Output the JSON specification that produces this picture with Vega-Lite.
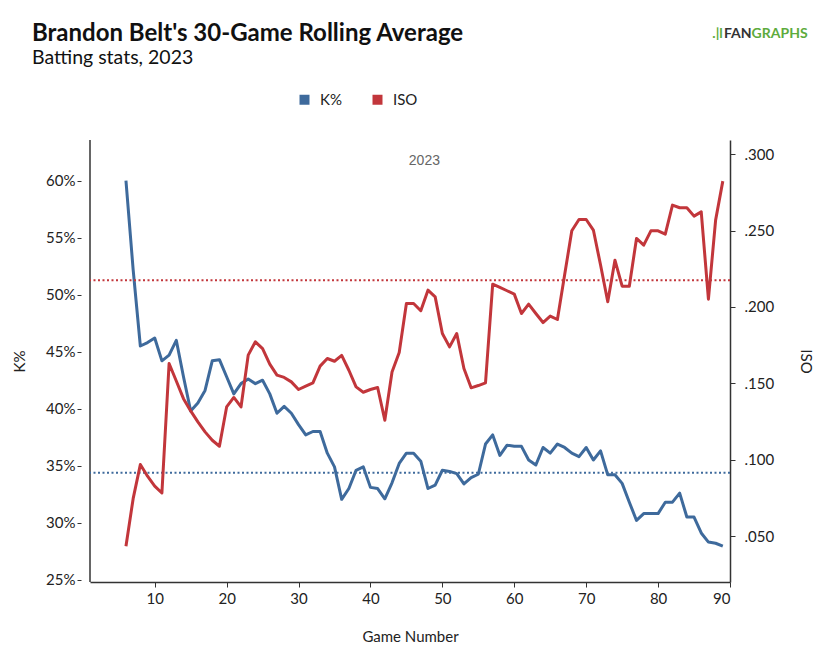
{
  "$schema": "https://vega.github.io/schema/vega-lite/v6.json",
  "width": 640,
  "height": 442,
  "autosize": {"type": "none"},
  "padding": {"left": 90, "top": 140, "right": 101, "bottom": 84},
  "background": "white",
  "config": {
    "view": {"stroke": null},
    "font": "Lato",
    "axis": {
      "labelFont": "Lato", "labelFontSize": 15, "labelColor": "#222",
      "titleFont": "Lato", "titleFontSize": 15, "titleFontWeight": "normal", "titleColor": "#222",
      "domainColor": "#333", "domainWidth": 1.5, "tickColor": "#333", "tickSize": 5, "grid": false
    },
    "legend": {"labelFont": "Lato", "labelFontSize": 15, "labelColor": "#222"}
  },
  "title": {
    "text": "Brandon Belt's 30-Game Rolling Average",
    "subtitle": "Batting stats, 2023",
    "anchor": "start",
    "frame": "group",
    "dx": -58,
    "dy": 50,
    "offset": 10,
    "font": "Lato", "fontSize": 24, "fontWeight": "bold", "color": "#111",
    "subtitleFont": "Lato", "subtitleFontSize": 19.5, "subtitleColor": "#111", "subtitlePadding": 3
  },
  "data": {
    "values": [
      {"game": 6, "K": 0.600, "ISO": 0.0435},
      {"game": 7, "K": 0.522, "ISO": 0.0746},
      {"game": 8, "K": 0.455, "ISO": 0.0969},
      {"game": 9, "K": 0.458, "ISO": 0.0893},
      {"game": 10, "K": 0.462, "ISO": 0.0828},
      {"game": 11, "K": 0.442, "ISO": 0.0783},
      {"game": 12, "K": 0.447, "ISO": 0.163},
      {"game": 13, "K": 0.460, "ISO": 0.1516},
      {"game": 14, "K": 0.428, "ISO": 0.140},
      {"game": 15, "K": 0.398, "ISO": 0.132},
      {"game": 16, "K": 0.405, "ISO": 0.1248},
      {"game": 17, "K": 0.416, "ISO": 0.1183},
      {"game": 18, "K": 0.442, "ISO": 0.1128},
      {"game": 19, "K": 0.443, "ISO": 0.1089},
      {"game": 20, "K": 0.428, "ISO": 0.1346},
      {"game": 21, "K": 0.413, "ISO": 0.1408},
      {"game": 22, "K": 0.422, "ISO": 0.1346},
      {"game": 23, "K": 0.426, "ISO": 0.1685},
      {"game": 24, "K": 0.422, "ISO": 0.1772},
      {"game": 25, "K": 0.425, "ISO": 0.1728},
      {"game": 26, "K": 0.413, "ISO": 0.1626},
      {"game": 27, "K": 0.396, "ISO": 0.1554},
      {"game": 28, "K": 0.402, "ISO": 0.1539},
      {"game": 29, "K": 0.396, "ISO": 0.151},
      {"game": 30, "K": 0.386, "ISO": 0.146},
      {"game": 31, "K": 0.377, "ISO": 0.1482},
      {"game": 32, "K": 0.380, "ISO": 0.1503},
      {"game": 33, "K": 0.380, "ISO": 0.1613},
      {"game": 34, "K": 0.361, "ISO": 0.1663},
      {"game": 35, "K": 0.349, "ISO": 0.1645},
      {"game": 36, "K": 0.3205, "ISO": 0.1683},
      {"game": 37, "K": 0.330, "ISO": 0.1586},
      {"game": 38, "K": 0.346, "ISO": 0.1477},
      {"game": 39, "K": 0.349, "ISO": 0.1442},
      {"game": 40, "K": 0.331, "ISO": 0.146},
      {"game": 41, "K": 0.330, "ISO": 0.1473},
      {"game": 42, "K": 0.321, "ISO": 0.1259},
      {"game": 43, "K": 0.335, "ISO": 0.1575},
      {"game": 44, "K": 0.352, "ISO": 0.1702},
      {"game": 45, "K": 0.361, "ISO": 0.2023},
      {"game": 46, "K": 0.361, "ISO": 0.2023},
      {"game": 47, "K": 0.354, "ISO": 0.1975},
      {"game": 48, "K": 0.330, "ISO": 0.211},
      {"game": 49, "K": 0.333, "ISO": 0.2066},
      {"game": 50, "K": 0.346, "ISO": 0.1826},
      {"game": 51, "K": 0.345, "ISO": 0.1739},
      {"game": 52, "K": 0.343, "ISO": 0.1826},
      {"game": 53, "K": 0.334, "ISO": 0.1597},
      {"game": 54, "K": 0.3395, "ISO": 0.1471},
      {"game": 55, "K": 0.3425, "ISO": 0.1486},
      {"game": 56, "K": 0.369, "ISO": 0.1503},
      {"game": 57, "K": 0.377, "ISO": 0.2149},
      {"game": 58, "K": 0.359, "ISO": 0.2128},
      {"game": 59, "K": 0.368, "ISO": 0.2106},
      {"game": 60, "K": 0.367, "ISO": 0.2084},
      {"game": 61, "K": 0.367, "ISO": 0.1957},
      {"game": 62, "K": 0.355, "ISO": 0.2018},
      {"game": 63, "K": 0.3506, "ISO": 0.1957},
      {"game": 64, "K": 0.366, "ISO": 0.1898},
      {"game": 65, "K": 0.361, "ISO": 0.194},
      {"game": 66, "K": 0.369, "ISO": 0.1918},
      {"game": 67, "K": 0.366, "ISO": 0.2209},
      {"game": 68, "K": 0.361, "ISO": 0.2498},
      {"game": 69, "K": 0.358, "ISO": 0.2572},
      {"game": 70, "K": 0.366, "ISO": 0.2572},
      {"game": 71, "K": 0.355, "ISO": 0.2503},
      {"game": 72, "K": 0.363, "ISO": 0.2274},
      {"game": 73, "K": 0.342, "ISO": 0.2034},
      {"game": 74, "K": 0.342, "ISO": 0.2306},
      {"game": 75, "K": 0.3345, "ISO": 0.2136},
      {"game": 76, "K": 0.318, "ISO": 0.2136},
      {"game": 77, "K": 0.302, "ISO": 0.2448},
      {"game": 78, "K": 0.308, "ISO": 0.2404},
      {"game": 79, "K": 0.308, "ISO": 0.2498},
      {"game": 80, "K": 0.308, "ISO": 0.2498},
      {"game": 81, "K": 0.318, "ISO": 0.2476},
      {"game": 82, "K": 0.318, "ISO": 0.2666},
      {"game": 83, "K": 0.326, "ISO": 0.2649},
      {"game": 84, "K": 0.305, "ISO": 0.2649},
      {"game": 85, "K": 0.305, "ISO": 0.2594},
      {"game": 86, "K": 0.291, "ISO": 0.2622},
      {"game": 87, "K": 0.283, "ISO": 0.2051},
      {"game": 88, "K": 0.282, "ISO": 0.2568},
      {"game": 89, "K": 0.2795, "ISO": 0.2823}
    ]
  },
  "layer": [
    {
      "layer": [
        {
          "data": {"values": [{}]},
          "mark": {"type": "rule", "color": "#333", "strokeWidth": 1.5},
          "encoding": {"x": {"datum": 1, "type": "quantitative"}}
        },
        {
          "data": {"values": [{}]},
          "mark": {"type": "rule", "color": "#3e6a9c", "strokeWidth": 2, "strokeDash": [2, 2.5]},
          "encoding": {"y": {"datum": 0.3439, "type": "quantitative"}}
        },
        {
          "mark": {"type": "line", "strokeWidth": 3, "strokeJoin": "round"},
          "encoding": {
            "x": {
              "field": "game", "type": "quantitative",
              "scale": {"domain": [1, 90], "nice": false, "zero": false},
              "axis": {"values": [10, 20, 30, 40, 50, 60, 70, 80, 90], "format": "d", "title": "Game Number", "labelPadding": 4, "titlePadding": 23}
            },
            "y": {
              "field": "K", "type": "quantitative",
              "scale": {"domain": [0.248, 0.6357], "nice": false, "zero": false},
              "axis": {"orient": "left", "values": [0.25, 0.3, 0.35, 0.4, 0.45, 0.5, 0.55, 0.6], "format": ".0%", "title": "K%", "offset": 9, "domain": false, "tickSize": 4, "labelPadding": 2, "titlePadding": 18}
            },
            "color": {
              "datum": "K%", "type": "nominal",
              "scale": {"domain": ["K%", "ISO"], "range": ["#3e6a9c", "#c2363b"]},
              "legend": {
                "orient": "none", "legendX": 207, "legendY": -48, "direction": "horizontal", "title": null,
                "symbolType": "square", "symbolSize": 100, "symbolStrokeWidth": 0, "labelOffset": 8, "columnPadding": 28,
                "labelFontSize": 15,
                "encode": {"symbols": {"update": {"fill": {"scale": "color", "field": "value"}, "stroke": {"value": "transparent"}}}}
              }
            }
          }
        },
        {
          "data": {"values": [{}]},
          "mark": {"type": "text", "font": "Liberation Sans", "fontSize": 14, "color": "#666", "align": "center", "baseline": "middle"},
          "encoding": {
            "x": {"datum": 47.5, "type": "quantitative"},
            "y": {"datum": 0.6175, "type": "quantitative"},
            "text": {"value": "2023"}
          }
        }
      ]
    },
    {
      "layer": [
        {
          "data": {"values": [{}]},
          "mark": {"type": "rule", "color": "#c2363b", "strokeWidth": 2, "strokeDash": [2, 2.5]},
          "encoding": {"y": {"datum": 0.2175, "type": "quantitative"}}
        },
        {
          "mark": {"type": "line", "strokeWidth": 3, "strokeJoin": "round"},
          "encoding": {
            "x": {"field": "game", "type": "quantitative"},
            "y": {
              "field": "ISO", "type": "quantitative",
              "scale": {"domain": [0.0201, 0.3092], "nice": false, "zero": false},
              "axis": {"orient": "right", "values": [0.05, 0.1, 0.15, 0.2, 0.25, 0.3], "labelExpr": "replace(format(datum.value, '.3f'), '0.', '.')", "title": "ISO", "tickSize": 5, "labelPadding": 9, "titlePadding": 24}
            },
            "color": {"datum": "ISO", "type": "nominal"}
          }
        },
        {
          "data": {"values": [{}]},
          "mark": {"type": "text", "font": "Lato", "fontSize": 14, "fontWeight": "bold", "color": "#5dab3c", "align": "right", "baseline": "middle"},
          "encoding": {
            "x": {"datum": 89.0, "type": "quantitative"},
            "y": {"datum": 0.3785, "type": "quantitative"},
            "text": {"value": ".|l"}
          }
        },
        {
          "data": {"values": [{}]},
          "mark": {"type": "text", "font": "Lato", "fontSize": 14, "fontWeight": "bold", "color": "#333", "align": "right", "baseline": "middle"},
          "encoding": {
            "x": {"datum": 93.0, "type": "quantitative"},
            "y": {"datum": 0.3785, "type": "quantitative"},
            "text": {"value": "FAN"}
          }
        },
        {
          "data": {"values": [{}]},
          "mark": {"type": "text", "font": "Lato", "fontSize": 14, "fontWeight": "bold", "color": "#5dab3c", "align": "left", "baseline": "middle"},
          "encoding": {
            "x": {"datum": 93.0, "type": "quantitative"},
            "y": {"datum": 0.3785, "type": "quantitative"},
            "text": {"value": "GRAPHS"}
          }
        }
      ]
    }
  ],
  "resolve": {"scale": {"y": "independent"}}
}
